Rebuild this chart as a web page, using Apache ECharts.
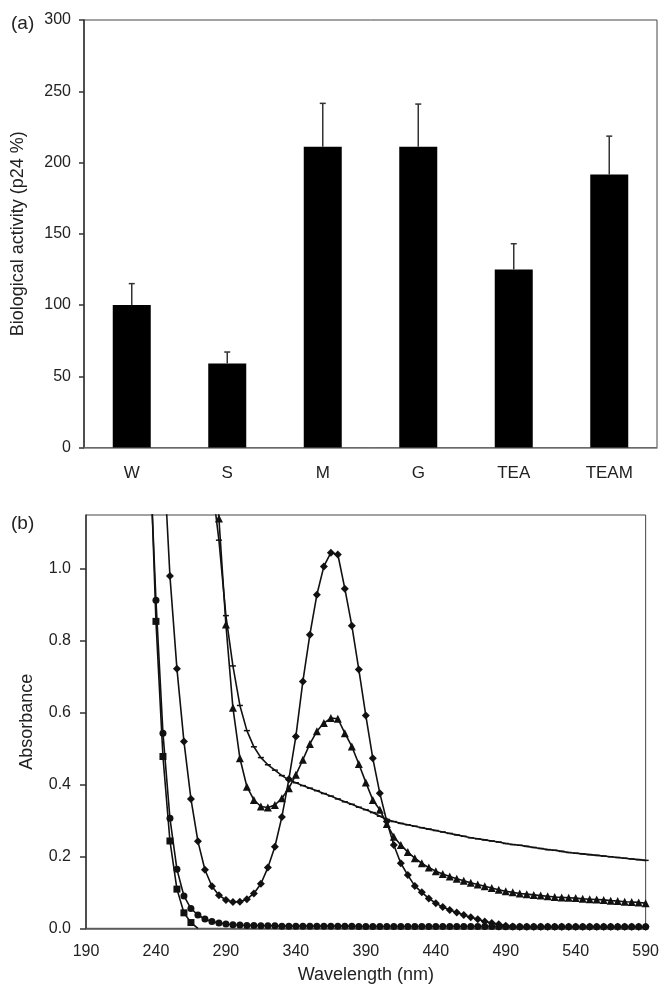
<!DOCTYPE html>
<html>
<head>
<meta charset="utf-8">
<script src="https://cdn.jsdelivr.net/npm/echarts@6/dist/echarts.min.js"></script>
<style>
html,body{margin:0;padding:0;background:#fff;}
#main{width:662px;height:989px;}
</style>
</head>
<body>
<div id="main"></div>
<script>
// ---------- Panel (a) data ----------
const categories = ['W', 'S', 'M', 'G', 'TEA', 'TEAM'];
const activity = [100, 59, 211, 211, 125, 191.5];
const activityErr = [15, 8, 30.5, 30, 18, 27];
const activityTicks = [0, 50, 100, 150, 200, 250, 300];

// ---------- Panel (b) data ----------
const wavelength = [235,240,245,250,255,260,265,270,275,280,
  285,290,295,300,305,310,315,320,325,330,
  335,340,345,350,355,360,365,370,375,380,
  385,390,395,400,405,410,415,420,425,430,
  435,440,445,450,455,460,465,470,475,480,
  485,490,495,500,505,510,515,520,525,530,
  535,540,545,550,555,560,565,570,575,580,
  585,590];
const absCircle = [1.37,0.913,0.543,0.306,0.164,0.09,0.055,0.037,0.026,0.019,
  0.015,0.012,0.010,0.009,0.008,0.008,0.007,0.007,0.007,0.006,
  0.006,0.006,0.006,0.006,0.006,0.006,0.006,0.006,0.006,0.006,
  0.005,0.005,0.005,0.005,0.005,0.005,0.005,0.005,0.005,0.005,
  0.005,0.005,0.005,0.005,0.005,0.005,0.005,0.005,0.005,0.005,
  0.004,0.004,0.004,0.004,0.004,0.004,0.004,0.004,0.004,0.004,
  0.004,0.004,0.004,0.004,0.004,0.004,0.004,0.004,0.004,0.004,
  0.004,0.004];
const absSquare = [1.42,0.854,0.478,0.243,0.109,0.043,0.016,0];
const absDiamond = [null,null,1.35,0.98,0.722,0.52,0.36,0.242,0.163,0.117,
  0.092,0.079,0.073,0.074,0.081,0.097,0.124,0.169,0.227,0.31,
  0.415,0.534,0.687,0.817,0.928,1.007,1.045,1.04,0.945,0.842,
  0.72,0.592,0.473,0.376,0.297,0.232,0.181,0.148,0.118,0.1,
  0.083,0.07,0.059,0.051,0.044,0.037,0.031,0.025,0.019,0.015,
  0.011,0.007,0.005,0.004,0.004,0.004,0.004,0.004,0.004,0.004,
  0.004,0.004,0.004,0.004,0.004,0.004,0.004,0.004,0.004,0.004,
  0.004,0.004];
const absTriangle = [null,null,null,null,null,null,null,null,null,1.6,
  1.14,0.845,0.614,0.473,0.394,0.357,0.339,0.336,0.343,0.362,
  0.39,0.427,0.469,0.513,0.548,0.571,0.585,0.583,0.543,0.506,
  0.457,0.406,0.357,0.33,0.29,0.255,0.232,0.212,0.195,0.181,
  0.169,0.159,0.151,0.144,0.138,0.132,0.127,0.122,0.117,0.112,
  0.107,0.103,0.1,0.097,0.095,0.093,0.091,0.089,0.087,0.086,
  0.085,0.084,0.082,0.081,0.08,0.079,0.077,0.076,0.074,0.073,
  0.072,0.07];
const absMinus = [null,null,null,null,null,null,null,null,null,1.24,
  1.08,0.87,0.73,0.62,0.55,0.505,0.475,0.455,0.44,0.425,
  0.413,0.405,0.397,0.39,0.383,0.375,0.368,0.36,0.352,0.345,
  0.337,0.33,0.322,0.312,0.303,0.297,0.292,0.288,0.284,0.28,
  0.276,0.272,0.268,0.264,0.26,0.256,0.252,0.249,0.246,0.243,
  0.24,0.236,0.233,0.231,0.228,0.225,0.222,0.219,0.217,0.214,
  0.211,0.209,0.207,0.205,0.203,0.201,0.199,0.197,0.195,0.193,
  0.191,0.189];
const wavelengthTicks = [190, 240, 290, 340, 390, 440, 490, 540, 590];
const absorbanceTicks = [0, 0.2, 0.4, 0.6, 0.8, 1.0];

// ---------- build ----------
const FONT = '"Liberation Sans", Arial, Helvetica, sans-serif';
const TXT = '#222';
const INK = '#111';

function pairs(vals) {
  const out = [];
  vals.forEach((v, i) => {
    if (v === null || v === undefined) return;
    const item = { value: [wavelength[i], v] };
    if (v <= 0) item.symbol = 'none';
    out.push(item);
  });
  return out;
}

function lineSeries(vals, symbol, size, z) {
  return {
    type: 'line', xAxisIndex: 1, yAxisIndex: 1,
    data: pairs(vals), symbol: symbol, symbolSize: size,
    showSymbol: true, showAllSymbol: true, clip: true, z: z,
    lineStyle: { color: INK, width: 1.6 },
    itemStyle: { color: INK, borderWidth: 0 },
    emphasis: { disabled: true }, silent: true
  };
}

const chart = echarts.init(document.getElementById('main'), null, { renderer: 'canvas' });
chart.setOption({
  animation: false,
  backgroundColor: '#fff',
  textStyle: { fontFamily: FONT, color: TXT },
  title: [
    { text: '(a)', left: 6, top: 9, textStyle: { fontFamily: FONT, fontSize: 19, fontWeight: 'normal', color: TXT } },
    { text: '(b)', left: 6, top: 509, textStyle: { fontFamily: FONT, fontSize: 19, fontWeight: 'normal', color: TXT } }
  ],
  grid: [
    { left: 84, top: 20, width: 573, height: 427.5, show: true, borderColor: '#444', borderWidth: 1, backgroundColor: 'transparent' },
    { left: 86, top: 515, width: 562, height: 413.3, show: true, borderColor: '#444', borderWidth: 1, backgroundColor: 'transparent' }
  ],
  xAxis: [
    {
      gridIndex: 0, type: 'category', data: categories, boundaryGap: true,
      axisLine: { show: true, lineStyle: { color: '#777', width: 1.5 } },
      axisTick: { show: false },
      axisLabel: { fontFamily: FONT, fontSize: 17, color: TXT, margin: 17 },
      splitLine: { show: false }
    },
    {
      gridIndex: 1, type: 'value', min: 190, max: 590,
      name: 'Wavelength (nm)', nameLocation: 'middle', nameGap: 38,
      nameTextStyle: { fontFamily: FONT, fontSize: 18, color: TXT },
      axisLine: { show: true, onZero: false, lineStyle: { color: '#555', width: 1.5 } },
      axisTick: { show: false, customValues: wavelengthTicks },
      axisLabel: { fontFamily: FONT, fontSize: 16, color: TXT, margin: 15, customValues: wavelengthTicks },
      splitLine: { show: false }
    }
  ],
  yAxis: [
    {
      gridIndex: 0, type: 'value', min: 0, max: 300, interval: 50,
      name: 'Biological activity (p24 %)', nameLocation: 'middle', nameGap: 57, nameRotate: 90,
      nameTextStyle: { fontFamily: FONT, fontSize: 18, color: TXT },
      axisLine: { show: true, lineStyle: { color: '#333', width: 1.5 } },
      axisTick: { show: true, inside: false, length: 5, lineStyle: { color: '#333', width: 1.5 } },
      axisLabel: { fontFamily: FONT, fontSize: 16, color: TXT, margin: 13, customValues: activityTicks },
      splitLine: { show: false }
    },
    {
      gridIndex: 1, type: 'value', min: 0, max: 1.15,
      name: 'Absorbance', nameLocation: 'middle', nameGap: 50, nameRotate: 90,
      nameTextStyle: { fontFamily: FONT, fontSize: 18, color: TXT },
      axisLine: { show: true, onZero: false, lineStyle: { color: '#333', width: 1.5 } },
      axisTick: { show: true, inside: false, length: 6, customValues: absorbanceTicks, lineStyle: { color: '#333', width: 1.5 } },
      axisLabel: { fontFamily: FONT, fontSize: 16, color: TXT, margin: 15, customValues: absorbanceTicks,
        formatter: v => Number(v).toFixed(1) },
      splitLine: { show: false }
    }
  ],
  series: [
    {
      type: 'bar', xAxisIndex: 0, yAxisIndex: 0, data: activity,
      barWidth: 38, itemStyle: { color: '#000' }, silent: true, z: 2
    },
    {
      type: 'custom', xAxisIndex: 0, yAxisIndex: 0, z: 3, silent: true,
      data: activity.map((v, i) => [i, v, activityErr[i]]),
      encode: { x: 0, y: 1 },
      renderItem: function (params, api) {
        const idx = api.value(0), v = api.value(1), e = api.value(2);
        const p0 = api.coord([idx, v]);
        const p1 = api.coord([idx, v + e]);
        const cap = 3;
        return {
          type: 'group', children: [
            { type: 'line', shape: { x1: p0[0], y1: p0[1], x2: p1[0], y2: p1[1] }, style: { stroke: '#333', lineWidth: 1.5 } },
            { type: 'line', shape: { x1: p1[0] - cap, y1: p1[1], x2: p1[0] + cap, y2: p1[1] }, style: { stroke: '#333', lineWidth: 1.5 } }
          ]
        };
      }
    },
    lineSeries(absMinus, 'rect', [6, 1.5], 3),
    lineSeries(absTriangle, 'triangle', 8, 4),
    lineSeries(absDiamond, 'diamond', 8, 5),
    lineSeries(absSquare, 'rect', 7, 6),
    lineSeries(absCircle, 'circle', 7, 7)
  ]
});
</script>
</body>
</html>
